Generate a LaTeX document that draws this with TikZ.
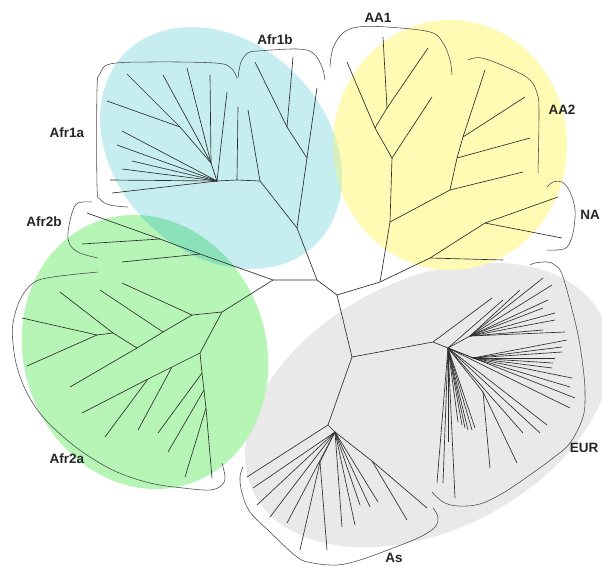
\documentclass[tikz,border=0pt]{standalone}
\usepackage{fontspec}
\setmainfont{Liberation Sans}
\definecolor{cyanF}{RGB}{198,238,240}
\definecolor{yelF}{RGB}{255,251,180}
\definecolor{grnF}{RGB}{182,245,182}
\definecolor{grayF}{RGB}{233,233,233}
\definecolor{ovCG}{RGB}{140,226,184}
\definecolor{ovCY}{RGB}{215,240,190}
\newcommand\leafset[3]{\foreach \lx/\ly [count=\lk] in {#3}{\coordinate (#2\lk) at (\lx,\ly); \draw[br] (#1) -- (#2\lk);}}
\begin{document}
\begin{tikzpicture}[x=1pt,y=-1pt,
  br/.style={draw=black!82,line width=0.65pt},
  brk/.style={draw=black!72,line width=0.55pt},
  lab/.style={font=\bfseries\fontsize{13.5}{16}\selectfont,text=black!85,inner sep=0pt}]
\clip (0,0) rectangle (602,565);
\fill[white] (0,0) rectangle (602,565);
% ---------- coloured ellipses
\fill[grayF, rotate around={27:(428,405)}] (428,405) ellipse [x radius=195pt, y radius=125pt];
\fill[grnF, rotate around={-70:(145,352)}] (145,352) ellipse [x radius=139pt, y radius=121pt];
\fill[yelF] (450,145) ellipse [x radius=117pt, y radius=125pt];
\fill[cyanF, rotate around={-45:(221,148)}] (221,148) ellipse [x radius=135pt, y radius=105pt];
\begin{scope}
  \clip[rotate around={-45:(221,148)}] (221,148) ellipse [x radius=135pt, y radius=105pt];
  \fill[ovCG, rotate around={-70:(145,352)}] (145,352) ellipse [x radius=139pt, y radius=121pt];
  \fill[ovCY] (450,145) ellipse [x radius=117pt, y radius=125pt];
\end{scope}
% ---------- central nodes
\coordinate (c1) at (317,280);
\coordinate (c2) at (337,295);
\coordinate (c3) at (380,282);
\coordinate (c4) at (352,357);
\coordinate (r1) at (297,228);
\coordinate (r2) at (273,280);
\draw[br] (r2) -- (c1) -- (c2) -- (c3);
\draw[br] (c1) -- (r1);
\draw[br] (c2) -- (c4);
% ---------- Afr1
\coordinate (a0) at (260,181);
\coordinate (a1) at (237,180);
\coordinate (a2) at (217,181);
\coordinate (a3) at (211,163);
\coordinate (a5) at (180,127);
\coordinate (b0) at (307,158);
\coordinate (b1) at (287,127);
\draw[br] (r1) -- (a0) -- (a1) -- (a2) -- (a3) -- (a5);
\draw[br] (r1) -- (b0) -- (b1);
\leafset{a0}{la0-}{248/110}
\leafset{a1}{la1-}{238/107}
\leafset{a2}{la2-}{227/92,122/131,117/145,132/161,122/169,110/180,112/193}
\leafset{a3}{la3-}{210/75,187/68,163/75}
\leafset{a5}{la5-}{127/74,107/101}
\leafset{b0}{lb0-}{317/88}
\leafset{b1}{lb1-}{255/62,293/57}
% ---------- AA / NA
\coordinate (d0) at (390,222);
\coordinate (d1) at (392,158);
\coordinate (d2) at (375,128);
\coordinate (d3) at (387,108);
\coordinate (f0) at (450,190);
\coordinate (f1) at (457,158);
\coordinate (f2) at (463,137);
\coordinate (n0) at (430,258);
\coordinate (n1) at (485,223);
\draw[br] (c3) -- (d0) -- (d1) -- (d2) -- (d3);
\draw[br] (d0) -- (f0) -- (f1) -- (f2);
\draw[br] (c3) -- (n0) -- (n1);
\leafset{d1}{ld1-}{432/97}
\leafset{d2}{ld2-}{347/62}
\leafset{d3}{ld3-}{383/37,428/48}
\leafset{f0}{lf0-}{523/172}
\leafset{f1}{lf1-}{530/138}
\leafset{f2}{lf2-}{525/97,485/70}
\leafset{n0}{ln0-}{503/260}
\leafset{n1}{ln1-}{558/197,562/238}
% ---------- Afr2
\coordinate (k1) at (200,254);
\coordinate (k2) at (160,239);
\coordinate (g0) at (222,312);
\coordinate (g1) at (192,315);
\coordinate (m1) at (163,332);
\coordinate (pp) at (137,348);
\coordinate (p2) at (113,333);
\coordinate (q) at (97,335);
\coordinate (g2) at (200,353);
\coordinate (h1) at (172,367);
\coordinate (h2) at (148,379);
\coordinate (v1) at (202,373);
\coordinate (v2) at (204,390);
\coordinate (v3) at (206,408);
\draw[br] (r2) -- (k1) -- (k2);
\draw[br] (r2) -- (g0) -- (g1) -- (m1) -- (pp) -- (p2) -- (q);
\draw[br] (g0) -- (g2) -- (h1) -- (h2);
\draw[br] (g2) -- (v1) -- (v2) -- (v3);
\leafset{k1}{lk1-}{122/262}
\leafset{k2}{lk2-}{82/244,87/213}
\leafset{g1}{lg1-}{122/283}
\leafset{m1}{lm1-}{100/290}
\leafset{pp}{lpp-}{70/387}
\leafset{p2}{lp2-}{60/292}
\leafset{q}{lq-}{22/318,27/366}
\leafset{h1}{lh1-}{138/430}
\leafset{h2}{lh2-}{105/437,82/413}
\leafset{v1}{lv1-}{158/433}
\leafset{v2}{lv2-}{168/452}
\leafset{v3}{lv3-}{185/477,212/478}
% ---------- EUR
\coordinate (e0) at (433,342);
\coordinate (e1) at (448,348);
\coordinate (he1) at (470,336);
\coordinate (he2) at (473,358);
\coordinate (he3) at (483,392);
\draw[br] (c4) -- (e0) -- (e1);
\draw[br] (e1) -- (he1);
\draw[br] (e1) -- (he2);
\draw[br] (e1) -- (he3);
\leafset{e0}{le0-}{492/298}
\leafset{he1}{lhe1-}{520/290,543/278,552/285,548/300,543/308,555/313,555/320,543/330,565/332}
\leafset{he2}{lhe2-}{567/340,562/347,562/352,555/358,553/363,552/368,572/378,570/387}
\leafset{he3}{lhe3-}{490/468,517/463}
\leafset{e1}{le1-}{503/300,575/398,570/408,547/425,540/433,523/433,475/428,472/430,468/430,465/428,462/425,458/422,455/498,443/483,437/483,448/442}
% ---------- As
\coordinate (s0) at (328,425);
\coordinate (s1) at (335,432);
\coordinate (s2) at (320,462);
\coordinate (s3) at (372,461);
\draw[br] (c4) -- (s0) -- (s1) -- (s2);
\draw[br] (s1) -- (s3);
\leafset{s0}{ls0-}{247/477}
\leafset{s1}{ls1-}{253/488,257/505,270/517,287/523,342/527,355/525,360/505,370/507,378/502}
\leafset{s2}{ls2-}{300/550,327/550}
\leafset{s3}{ls3-}{427/508,407/520}
% ---------- brackets
\draw[brk] plot[smooth,tension=0.6] coordinates {(237,78) (231,68) (215,63) (150,62) (110,64) (100,74) (97,90) (97,185) (100,199) (110,205) (128,207)};
\draw[brk] plot[smooth,tension=0.6] coordinates {(238,78) (241,62) (248,53) (258,51) (297,49) (313,53) (322,67) (325,80)};
\draw[brk] plot[smooth,tension=0.6] coordinates {(330,67) (333,48) (343,33) (358,27) (387,27) (430,32) (443,43) (450,60) (452,75)};
\draw[brk] plot[smooth,tension=0.6] coordinates {(468,60) (482,58) (513,70) (530,80) (537,93) (539,110) (538,173)};
\draw[brk] plot[smooth,tension=0.6] coordinates {(547,187) (553,182) (562,182) (570,192) (575,210) (573,233) (567,247) (557,250) (547,250)};
\draw[brk] plot[smooth,tension=0.6] coordinates {(432,492) (443,502) (458,506) (480,504) (503,493) (527,477) (553,458) (570,443) (583,417) (585,393) (583,367) (577,330) (563,277) (555,265) (547,262) (535,263) (530,265)};
\draw[brk] plot[smooth,tension=0.6] coordinates {(243,467) (240,477) (242,493) (250,512) (270,532) (297,557) (313,563) (337,565) (360,560) (393,548) (420,537) (435,527) (438,517) (433,508)};
\draw[brk] plot[smooth,tension=0.6] coordinates {(92,202) (78,203) (72,213) (68,233) (70,245) (80,253) (98,258)};
\draw[brk] plot[smooth,tension=0.6] coordinates {(98,272) (53,277) (33,283) (20,300) (13,323) (13,343) (17,367) (27,393) (43,417) (67,440) (90,457) (117,472) (150,483) (183,488) (210,490) (222,485) (225,477) (222,463)};
% ---------- labels
\node[lab] (tAfr1a) at (67,133) {Afr1a};
\node[lab] (tAfr1b) at (275,40) {Afr1b};
\node[lab] (tAA1) at (378,18) {AA1};
\node[lab] (tAA2) at (562,110) {AA2};
\node[lab] (tNA) at (590,215) {NA};
\node[lab] (tAs) at (394,558) {As};
\node[lab] (tAfr2b) at (44,222) {Afr2b};
\node[lab] (tAfr2a) at (67,459) {Afr2a};
\node[lab] (tEUR) at (584,448) {EUR};
\end{tikzpicture}
\end{document}
